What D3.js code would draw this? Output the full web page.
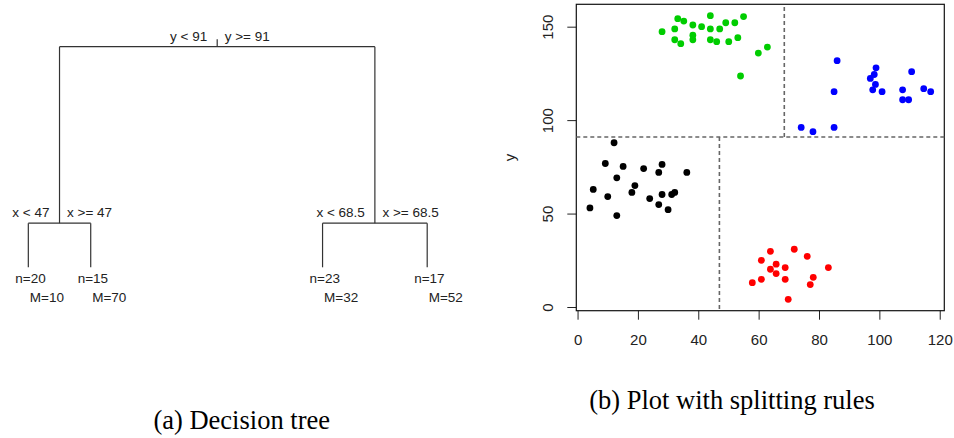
<!DOCTYPE html>
<html>
<head>
<meta charset="utf-8">
<script src="https://cdn.jsdelivr.net/npm/d3@7"></script>
<style>
body { margin: 0; background: #fff; }
svg { display: block; }
text { font-family: "Liberation Sans", Arial, sans-serif; }
.caption { font-family: "Liberation Serif", "Times New Roman", serif; font-size: 26.5px; }
</style>
</head>
<body>
<svg></svg>
<script>
var screen = {width: 954, height: 438}

// tree
var splitRules = [["y < 91", "y >= 91"], ["x < 47", "x >= 47"], ["x < 68.5", "x >= 68.5"]]
var splitLevel = [0, 0.8, 0.8]
var leafN = [20, 15, 23, 17]
var leafM = [10, 70, 32, 52]
var leafPos = [5.9, 18.9, 67.2, 89.0]

// cut points
var cutY = 91
var cutXLow = 47
var cutXHigh = 68.5

// scatter groups
var blackX = [4.1, 5.2, 9.2, 10.0, 12.1, 13.0, 13.0, 15.1, 18.0, 19.0, 21.9, 23.9, 26.9, 26.9, 28.0, 28.0, 30.0, 31.2, 32.2, 36.2]
var blackY = [53.0, 62.9, 76.8, 59.1, 87.9, 69.1, 48.9, 75.2, 61.3, 65.0, 74.1, 58.0, 72.0, 54.8, 76.3, 60.2, 52.1, 60.2, 61.3, 72.0]
var greenX = [28.0, 32.2, 32.2, 33.2, 34.2, 35.2, 38.2, 38.2, 38.2, 41.1, 44.0, 44.0, 44.0, 46.1, 47.1, 49.1, 50.1, 52.1, 53.1, 54.0, 55.0, 59.9, 62.9]
var greenY = [147.3, 148.8, 143.0, 154.3, 140.9, 153.0, 150.9, 145.4, 143.0, 150.0, 155.9, 148.8, 143.0, 142.0, 148.8, 152.1, 142.0, 152.1, 144.1, 123.6, 155.4, 135.9, 139.1]
var blueX = [74.1, 78.0, 85.0, 85.0, 86.0, 97.0, 98.3, 98.9, 98.7, 97.8, 100.9, 107.7, 107.7, 109.7, 110.7, 114.7, 117.0]
var blueY = [96.1, 93.8, 115.2, 96.1, 131.8, 122.3, 124.4, 128.0, 119.1, 116.2, 115.2, 116.2, 110.9, 110.9, 125.9, 116.8, 115.2]
var redX = [57.9, 60.9, 60.9, 63.9, 63.9, 65.8, 65.8, 68.8, 68.8, 69.8, 71.8, 76.1, 77.1, 78.1, 83.1]
var redY = [13.0, 25.0, 14.8, 29.8, 20.2, 22.9, 17.9, 21.1, 14.8, 4.1, 30.9, 27.1, 12.0, 15.9, 21.1]

var xTicks = [0, 20, 40, 60, 80, 100, 120]
var yTicks = [0, 50, 100, 150]

var groups = [
    {color: "#000000", xs: blackX, ys: blackY},
    {color: "#00CD00", xs: greenX, ys: greenY},
    {color: "#0000FF", xs: blueX, ys: blueY},
    {color: "#FF0000", xs: redX, ys: redY}
]

var svg = d3.select("svg")
    .attr("width", screen.width)
    .attr("height", screen.height)

//---------------- (a) decision tree
var treeX = d3.scaleLinear().domain([0, 100]).range([0, 480])
var treeY = d3.scaleLinear().domain([0, 1]).range([46.7, 267.3])

var leaves = leafN.map(function(n, i) {
    return {x: treeX(leafPos[i]), y: treeY(1), n: n, m: leafM[i]}
})
var node1 = {children: [leaves[0], leaves[1]], rule: splitRules[1], y: treeY(splitLevel[1])}
var node2 = {children: [leaves[2], leaves[3]], rule: splitRules[2], y: treeY(splitLevel[2])}
var root = {children: [node1, node2], rule: splitRules[0], y: treeY(splitLevel[0])}
node1.x = (leaves[0].x + leaves[1].x) / 2
node2.x = (leaves[2].x + leaves[3].x) / 2
root.x = (node1.x + node2.x) / 2

var tree = svg.append("g").attr("id", "tree")
var splits = [root, node1, node2]

splits.forEach(function(node) {
    var l = node.children[0], r = node.children[1]
    tree.append("line")
        .attr("x1", l.x).attr("x2", r.x)
        .attr("y1", node.y).attr("y2", node.y)
    node.children.forEach(function(c) {
        tree.append("line")
            .attr("x1", c.x).attr("x2", c.x)
            .attr("y1", node.y).attr("y2", c.y)
    })
    tree.append("text")
        .attr("x", node.x - 10).attr("y", node.y - 6)
        .attr("text-anchor", "end")
        .text(node.rule[0])
    tree.append("text")
        .attr("x", node.x + 7.5).attr("y", node.y - 6)
        .text(node.rule[1])
})

// little stub above the root
tree.append("line")
    .attr("x1", root.x).attr("x2", root.x)
    .attr("y1", root.y - 7.4).attr("y2", root.y)

tree.selectAll("line")
    .attr("stroke", "#333")
    .attr("stroke-width", 1.2)

var leafText = tree.selectAll(".leaf")
    .data(leaves)
    .enter()
    .append("g")
    .classed("leaf", true)

leafText.append("text")
    .attr("x", function(d) { return d.x - 13 })
    .attr("y", function(d) { return d.y + 16 })
    .text(function(d) { return "n=" + d.n })
leafText.append("text")
    .attr("x", function(d) { return d.x + 1.5 })
    .attr("y", function(d) { return d.y + 34.4 })
    .text(function(d) { return "M=" + d.m })

tree.selectAll("text")
    .attr("font-size", "13.5px")
    .attr("fill", "#222")

//---------------- (b) scatter with splitting rules
var box = {left: 576.3, right: 944.3, top: 4.3, bottom: 310.7}

var allX = blackX.concat(greenX, blueX, redX)
var allY = blackY.concat(greenY, blueY, redY)
var ex = d3.extent(allX), ey = d3.extent(allY)
var padX = (ex[1] - ex[0]) * 0.04, padY = (ey[1] - ey[0]) * 0.04

var xScale = d3.scaleLinear()
    .domain([ex[0] - padX, ex[1] + padX])
    .range([box.left, box.right])
var yScale = d3.scaleLinear()
    .domain([ey[0] - padY, ey[1] + padY])
    .range([box.bottom, box.top])

var plot = svg.append("g").attr("id", "plot")

var xAxis = d3.axisBottom(xScale).tickValues(xTicks).tickSize(9).tickPadding(15)
var yAxis = d3.axisLeft(yScale).tickValues(yTicks).tickSize(9)

var gx = plot.append("g")
    .attr("transform", "translate(0," + box.bottom + ")")
    .call(xAxis)
var gy = plot.append("g")
    .attr("transform", "translate(" + box.left + ",0)")
    .call(yAxis)

gx.select(".domain").remove()
gy.select(".domain").remove()

gy.selectAll(".tick text")
    .attr("x", 0)
    .attr("dy", 0)
    .attr("text-anchor", "middle")
    .attr("transform", "translate(-23,0) rotate(-90)")

plot.selectAll(".tick text")
    .attr("font-size", "15px")
    .attr("font-family", "'Liberation Sans', Arial, sans-serif")
    .attr("fill", "#222")
plot.selectAll(".tick line").attr("stroke", "#222")

plot.append("rect")
    .attr("x", box.left).attr("y", box.top)
    .attr("width", box.right - box.left)
    .attr("height", box.bottom - box.top)
    .attr("fill", "none")
    .attr("stroke", "#111")
    .attr("stroke-width", 1.2)

plot.append("text")
    .attr("transform", "translate(515," + ((box.top + box.bottom) / 2) + ") rotate(-90)")
    .attr("text-anchor", "middle")
    .attr("font-size", "15px")
    .attr("fill", "#222")
    .text("y")

// splitting rules
var dash = plot.append("g")
    .attr("stroke", "#666")
    .attr("stroke-width", 1.6)
    .attr("stroke-dasharray", "4,3")
    .attr("fill", "none")

dash.append("line")
    .attr("x1", box.left).attr("x2", box.right)
    .attr("y1", yScale(cutY)).attr("y2", yScale(cutY))
dash.append("line")
    .attr("x1", xScale(cutXLow)).attr("x2", xScale(cutXLow))
    .attr("y1", yScale(cutY)).attr("y2", box.bottom)
dash.append("line")
    .attr("x1", xScale(cutXHigh)).attr("x2", xScale(cutXHigh))
    .attr("y1", yScale(cutY)).attr("y2", box.top)

groups.forEach(function(g) {
    plot.append("g")
        .selectAll("circle")
        .data(g.xs)
        .enter()
        .append("circle")
        .attr("cx", function(x) { return xScale(x) })
        .attr("cy", function(x, i) { return yScale(g.ys[i]) })
        .attr("r", 3.4)
        .attr("fill", g.color)
})

//---------------- captions
svg.append("text")
    .classed("caption", true)
    .attr("x", 241.7).attr("y", 429.3)
    .attr("text-anchor", "middle")
    .text("(a) Decision tree")
svg.append("text")
    .classed("caption", true)
    .attr("x", 732).attr("y", 409.3)
    .attr("text-anchor", "middle")
    .text("(b) Plot with splitting rules")
</script>
</body>
</html>
